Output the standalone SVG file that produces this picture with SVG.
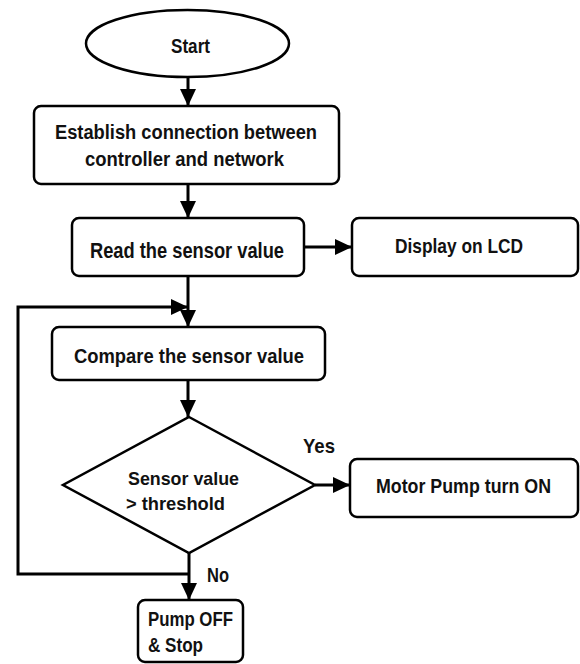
<svg xmlns="http://www.w3.org/2000/svg" width="580" height="664" viewBox="0 0 580 664">
<defs>
<marker id="ah" markerUnits="userSpaceOnUse" markerWidth="18" markerHeight="16" refX="17" refY="8" orient="auto">
<path d="M0,0 L17,8 L0,16 Z" fill="#000"/>
</marker>
<style>
.box{fill:#fff;stroke:#000;stroke-width:2.5}
.ln{fill:none;stroke:#000;stroke-width:3}
.t{font-family:"Liberation Sans Narrow","Liberation Sans",Arial,sans-serif;font-weight:bold;fill:#111;text-anchor:middle}
.tl{font-family:"Liberation Sans Narrow","Liberation Sans",Arial,sans-serif;font-weight:bold;fill:#111;text-anchor:start}
</style>
</defs>
<rect width="580" height="664" fill="#fff"/>
<g id="connectors">
<line class="ln" x1="188" y1="77" x2="188" y2="106" marker-end="url(#ah)"/>
<line class="ln" x1="188" y1="184" x2="188" y2="218" marker-end="url(#ah)"/>
<line class="ln" x1="304" y1="247" x2="352" y2="247" marker-end="url(#ah)"/>
<line class="ln" x1="188" y1="276" x2="188" y2="327" marker-end="url(#ah)"/>
<polyline class="ln" points="189,574 18,574 18,307 188,307" marker-end="url(#ah)"/>
<line class="ln" x1="188" y1="380" x2="188" y2="417" marker-end="url(#ah)"/>
<line class="ln" x1="315" y1="485" x2="350" y2="485" marker-end="url(#ah)"/>
<line class="ln" x1="189" y1="553" x2="189" y2="600" marker-end="url(#ah)"/>
<text class="tl" x="303" y="453" font-size="21" textLength="32" lengthAdjust="spacingAndGlyphs">Yes</text>
<text class="tl" x="207" y="582" font-size="21" textLength="22" lengthAdjust="spacingAndGlyphs">No</text>
</g>
<g id="start">
<ellipse class="box" cx="187.5" cy="43.5" rx="101.5" ry="33.5"/>
<text class="t" x="190.5" y="53" font-size="21" textLength="39" lengthAdjust="spacingAndGlyphs">Start</text>
</g>
<g id="establish">
<rect class="box" x="34" y="106" width="305" height="78" rx="7"/>
<text class="t" x="186" y="139" font-size="19.5" textLength="262" lengthAdjust="spacingAndGlyphs">Establish connection between</text>
<text class="t" x="184.5" y="166" font-size="19.5" textLength="199" lengthAdjust="spacingAndGlyphs">controller and network</text>
</g>
<g id="read">
<rect class="box" x="72" y="218" width="232" height="58" rx="7"/>
<text class="t" x="187" y="258" font-size="22" textLength="194" lengthAdjust="spacingAndGlyphs">Read the sensor value</text>
</g>
<g id="display">
<rect class="box" x="352" y="218" width="226" height="58" rx="7"/>
<text class="t" x="459" y="253" font-size="21" textLength="128" lengthAdjust="spacingAndGlyphs">Display on LCD</text>
</g>
<g id="compare">
<rect class="box" x="52" y="327" width="273" height="53" rx="7"/>
<text class="t" x="189" y="363" font-size="20.5" textLength="230" lengthAdjust="spacingAndGlyphs">Compare the sensor value</text>
</g>
<g id="decision">
<polygon class="box" points="189,417 315,485 189,553 63,485"/>
<text class="tl" x="128" y="485" font-size="19" textLength="111" lengthAdjust="spacingAndGlyphs">Sensor value</text>
<text class="tl" x="126" y="510" font-size="19" textLength="99" lengthAdjust="spacingAndGlyphs">&gt; threshold</text>
</g>
<g id="motor">
<rect class="box" x="350" y="459" width="228" height="58" rx="7"/>
<text class="t" x="463.5" y="493" font-size="21" textLength="175" lengthAdjust="spacingAndGlyphs">Motor Pump turn ON</text>
</g>
<g id="pumpoff">
<rect class="box" x="138" y="600" width="105" height="62" rx="7"/>
<text class="tl" x="148" y="626" font-size="20.5" textLength="85" lengthAdjust="spacingAndGlyphs">Pump OFF</text>
<text class="tl" x="148" y="652" font-size="20.5" textLength="55" lengthAdjust="spacingAndGlyphs">&amp; Stop</text>
</g>
</svg>
